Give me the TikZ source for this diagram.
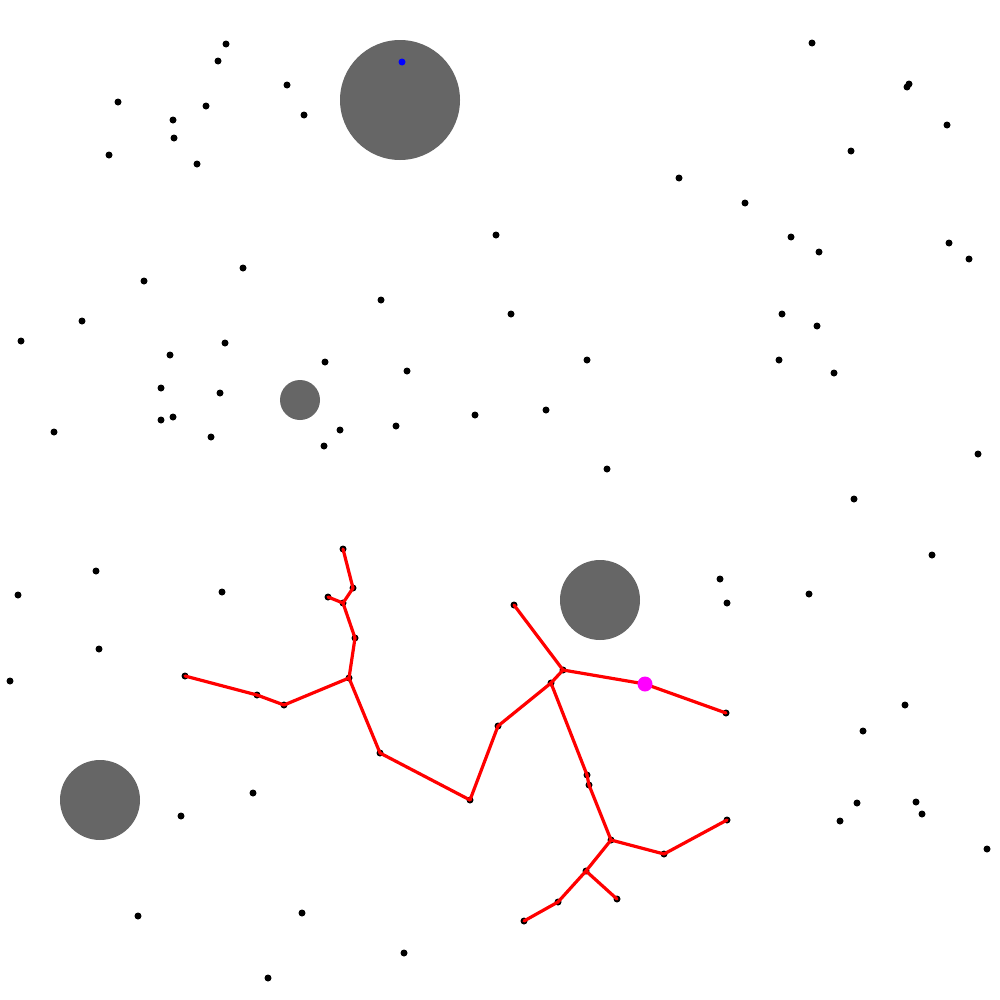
\documentclass[tikz,border=0pt]{standalone}
\begin{document}
\begin{tikzpicture}[x=0.01cm,y=-0.01cm,
  obstacle/.style={fill=obsgray},
  sample/.style={fill=black},
  treeedge/.style={draw=red,line width=0.032cm,line cap=round,line join=round}]
\definecolor{obsgray}{RGB}{102,102,102}
\definecolor{goalmag}{RGB}{255,0,255}
\definecolor{startblue}{RGB}{0,0,255}
\definecolor{red}{RGB}{255,0,0}
\useasboundingbox[fill=white] (0,0) rectangle (1000,1000);
% obstacles
\fill[obstacle] (400,100) circle (60);
\fill[obstacle] (300,400) circle (20);
\fill[obstacle] (600,600) circle (40);
\fill[obstacle] (100,800) circle (40);
% free samples
\foreach \x/\y in {226/44,218/61,287/85,118/102,206/106,304/115,173/120,174/138,109/155,197/164,
  243/268,144/281,82/321,21/341,225/343,170/355,161/388,220/393,173/417,161/420,54/432,211/437,
  496/235,381/300,511/314,325/362,407/371,587/360,475/415,546/410,396/426,340/430,324/446,607/469,
  812/43,909/84,907/87,947/125,851/151,679/178,745/203,791/237,819/252,949/243,969/259,
  782/314,817/326,779/360,834/373,978/454,854/499,
  96/571,18/595,222/592,99/649,10/681,
  932/555,720/579,727/603,809/594,905/705,863/731,857/803,916/802,922/814,840/821,987/849,
  253/793,181/816,138/916,302/913,404/953,268/978}
  \fill[sample] (\x,\y) circle (3.5);
% tree vertices
\coordinate (a1) at (343,549);
\coordinate (a2) at (353,588);
\coordinate (a3) at (328,597);
\coordinate (a4) at (343,603);
\coordinate (a5) at (355,638);
\coordinate (a6) at (349,678);
\coordinate (a7) at (185,676);
\coordinate (a8) at (257,695);
\coordinate (a9) at (284,705);
\coordinate (a10) at (380,753);
\coordinate (a11) at (470,800);
\coordinate (a12) at (498,726);
\coordinate (b1) at (514,605);
\coordinate (b2) at (563,670);
\coordinate (b3) at (551,683);
\coordinate (m) at (645,684);
\coordinate (b4) at (726,713);
\coordinate (b5) at (587,775);
\coordinate (b6) at (589,785);
\coordinate (b7) at (611,840);
\coordinate (b8) at (664,854);
\coordinate (b9) at (727,820);
\coordinate (b10) at (586,871);
\coordinate (b11) at (617,899);
\coordinate (b12) at (558,902);
\coordinate (b13) at (524,921);
\foreach \n in {a1,a2,a3,a4,a5,a6,a7,a8,a9,a10,a11,a12,b1,b2,b3,b4,b5,b6,b7,b8,b9,b10,b11,b12,b13}
  \fill[sample] (\n) circle (3.5);
% tree edges
\foreach \u/\v in {a1/a2,a2/a4,a3/a4,a4/a5,a5/a6,a6/a9,a9/a8,a8/a7,a6/a10,a10/a11,a11/a12,
  a12/b3,b3/b2,b2/b1,b2/m,m/b4,b3/b5,b5/b6,b6/b7,b7/b8,b8/b9,b7/b10,b10/b11,b10/b12,b12/b13}
  \draw[treeedge] (\u) -- (\v);
% goal and start
\fill[goalmag] (m) circle (7.5);
\coordinate (s) at (402,62);
\fill[startblue] (s) circle (3.5);
\end{tikzpicture}
\end{document}
